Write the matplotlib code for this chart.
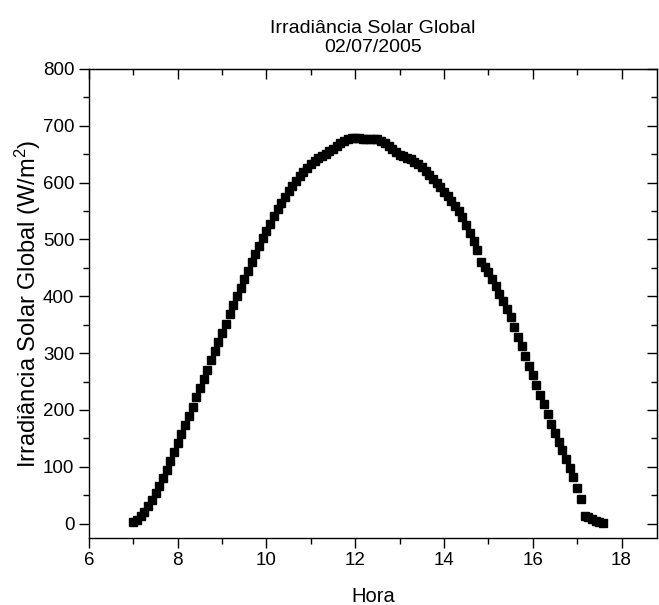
import matplotlib
matplotlib.use("Agg")
import matplotlib.pyplot as plt
from matplotlib.ticker import MultipleLocator

plt.rcParams['font.family'] = ['Liberation Sans', 'DejaVu Sans']
plt.rcParams['mathtext.fontset'] = 'custom'
plt.rcParams['mathtext.rm'] = 'Liberation Sans'
plt.rcParams['mathtext.it'] = 'Liberation Sans:italic'

# 5-minute readings, 02/07/2005
horarios = [
    "07:00", "07:05", "07:10", "07:15", "07:20", "07:25", "07:30", "07:35", "07:40", "07:45", "07:50", "07:55",
    "08:00", "08:05", "08:10", "08:15", "08:20", "08:25", "08:30", "08:35", "08:40", "08:45", "08:50", "08:55",
    "09:00", "09:05", "09:10", "09:15", "09:20", "09:25", "09:30", "09:35", "09:40", "09:45", "09:50", "09:55",
    "10:00", "10:05", "10:10", "10:15", "10:20", "10:25", "10:30", "10:35", "10:40", "10:45", "10:50", "10:55",
    "11:00", "11:05", "11:10", "11:15", "11:20", "11:25", "11:30", "11:35", "11:40", "11:45", "11:50", "11:55",
    "12:00", "12:05", "12:10", "12:15", "12:20", "12:25", "12:30", "12:35", "12:40", "12:45", "12:50", "12:55",
    "13:00", "13:05", "13:10", "13:15", "13:20", "13:25", "13:30", "13:35", "13:40", "13:45", "13:50", "13:55",
    "14:00", "14:05", "14:10", "14:15", "14:20", "14:25", "14:30", "14:35", "14:40", "14:45", "14:50", "14:55",
    "15:00", "15:05", "15:10", "15:15", "15:20", "15:25", "15:30", "15:35", "15:40", "15:45", "15:50", "15:55",
    "16:00", "16:05", "16:10", "16:15", "16:20", "16:25", "16:30", "16:35", "16:40", "16:45", "16:50", "16:55",
    "17:00", "17:05", "17:10", "17:15", "17:20", "17:25", "17:30", "17:35",
]

irradiancia = [
    3, 7, 13, 21, 31, 42, 54, 67, 81, 95, 110, 126,
    142, 158, 174, 190, 206, 222, 238, 255, 271, 288, 304, 320,
    336, 352, 368, 384, 400, 415, 430, 445, 460, 474, 488, 502,
    515, 528, 541, 553, 564, 575, 585, 594, 603, 611, 619, 626,
    632, 638, 643, 647, 651, 655, 660, 665, 669, 673, 676, 678,
    679, 678, 677, 676, 677, 677, 676, 674, 670, 665, 660, 654,
    649, 646, 644, 641, 637, 632, 627, 621, 614, 607, 600, 592,
    584, 576, 568, 559, 550, 539, 526, 512, 497, 481, 460, 452,
    442, 431, 418, 404, 391, 377, 363, 346, 329, 312, 295, 278,
    261, 244, 227, 210, 193, 176, 160, 144, 129, 114, 98, 82,
    62, 44, 14, 11, 8, 5, 3, 1,
]

# convert hh:mm to decimal hours
hora = [int(h[:2]) + int(h[3:]) / 60 for h in horarios]

fig = plt.figure(figsize=(6.59, 6.05), dpi=100)
ax = fig.add_axes([0.135, 0.111, 0.862, 0.775])

ax.plot(hora, irradiancia, linestyle='none', marker='s', markersize=6,
        color='black')

ax.set_xlim(6, 18.8)
ax.set_ylim(-25, 800)

ax.xaxis.set_major_locator(MultipleLocator(2))
ax.xaxis.set_minor_locator(MultipleLocator(1))
ax.yaxis.set_major_locator(MultipleLocator(100))
ax.yaxis.set_minor_locator(MultipleLocator(50))

ax.tick_params(which='major', direction='out', length=7, width=1, labelsize=13.5)
ax.tick_params(which='minor', direction='out', length=4, width=1)

# inward ticks on the top and right sides
top = ax.secondary_xaxis('top')
top.xaxis.set_major_locator(MultipleLocator(2))
top.xaxis.set_minor_locator(MultipleLocator(1))
top.tick_params(which='major', direction='in', length=7, width=1, labeltop=False)
top.tick_params(which='minor', direction='in', length=4, width=1)

right = ax.secondary_yaxis('right')
right.yaxis.set_major_locator(MultipleLocator(100))
right.yaxis.set_minor_locator(MultipleLocator(50))
right.tick_params(which='major', direction='in', length=7, width=1, labelright=False)
right.tick_params(which='minor', direction='in', length=4, width=1)

for s in ax.spines.values():
    s.set_linewidth(1)

ax.set_xlabel('Hora', fontsize=14.5, labelpad=13)
ax.set_ylabel('Irradiância Solar Global (W/m$^2$)', fontsize=17, labelpad=0)
ax.set_title('Irradiância Solar Global\n02/07/2005', fontsize=14, pad=12,
             linespacing=1.2)

fig.savefig('out.png', dpi=100)
